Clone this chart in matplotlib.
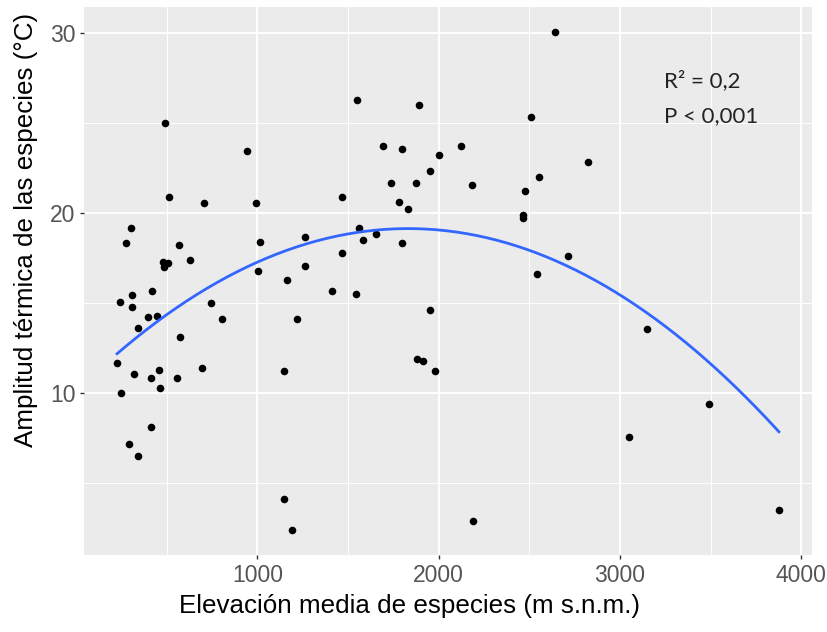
import numpy as np
import matplotlib
matplotlib.use("Agg")
import matplotlib.pyplot as plt
from matplotlib.ticker import MultipleLocator

# Mean elevation of each species (m a.s.l.) and its thermal amplitude (°C)
elevacion = [490, 943, 515, 704, 995, 1465, 301, 274, 566, 1013,
             1261, 1465, 479, 509, 483, 627, 1004, 1261, 1165, 1414,
             308, 241, 308, 419, 746, 395, 446, 344, 805, 1217,
             573, 226, 318, 456, 412, 557, 694, 1149, 250, 463,
             412, 292, 344, 1149, 1191, 2640, 1549, 1891, 2507, 1695,
             1797, 2123, 2004, 2825, 1950, 1737, 1875, 2183, 2553, 2476,
             1781, 1833, 2463, 2466, 1560, 1582, 1656, 1797, 2715, 2544,
             1542, 1952, 1882, 1912, 1978, 2191, 3151, 3493, 3048, 3877]
amplitud = [25.0, 23.45, 20.9, 20.57, 20.57, 20.9, 19.19, 18.33, 18.23, 18.42,
            18.67, 17.81, 17.32, 17.22, 16.99, 17.39, 16.8, 17.06, 16.29, 15.68,
            15.44, 15.09, 14.81, 15.68, 15.0, 14.23, 14.3, 13.64, 14.15, 14.15,
            13.13, 11.66, 11.07, 11.32, 10.83, 10.83, 11.42, 11.23, 10.04, 10.29,
            8.14, 7.21, 6.53, 4.14, 2.41, 30.05, 26.31, 26.03, 25.35, 23.73,
            23.55, 23.73, 23.22, 22.87, 22.35, 21.67, 21.67, 21.58, 22.0, 21.25,
            20.64, 20.22, 19.9, 19.76, 19.19, 18.53, 18.84, 18.33, 17.65, 16.63,
            15.52, 14.65, 11.93, 11.82, 11.23, 2.93, 13.55, 9.43, 7.56, 3.53]

x_ticks = [1000, 2000, 3000, 4000]
y_ticks = [10, 20, 30]
stats_lines = ["R² = 0,2", "P < 0,001"]
x_title = "Elevación media de especies (m s.n.m.)"
y_title = "Amplitud térmica de las especies (°C)"

x = np.array(elevacion, dtype=float)
y = np.array(amplitud, dtype=float)

# quadratic least-squares fit, drawn over the observed elevation range
coef = np.polyfit(x, y, 2)
xs = np.linspace(x.min(), x.max(), 200)
ys = np.polyval(coef, xs)

plt.rcParams["font.family"] = ["Liberation Sans", "DejaVu Sans"]

W, H = 828, 632
fig = plt.figure(figsize=(W / 100, H / 100), dpi=100)
ax = fig.add_axes([84 / W, 1 - 555 / H, (812 - 84) / W, (555 - 7.3) / H])
ax.set_facecolor("#EBEBEB")

ax.scatter(x, y, s=30, color="black", zorder=3, linewidths=0)
ax.plot(xs, ys, color="#3366FF", lw=2.0, zorder=4)

# ggplot-style 5% expansion of the data range
def expand(v):
    r = v.max() - v.min()
    return v.min() - 0.05 * r, v.max() + 0.05 * r

ax.set_xlim(*expand(x))
ax.set_ylim(*expand(y))

ax.set_xticks(x_ticks)
ax.set_yticks(y_ticks)
ax.xaxis.set_minor_locator(MultipleLocator(500))
ax.yaxis.set_minor_locator(MultipleLocator(5))
ax.grid(which="major", color="white", lw=1.3)
ax.grid(which="minor", color="white", lw=0.7)
ax.set_axisbelow(True)
for s in ax.spines.values():
    s.set_visible(False)

ax.tick_params(which="major", length=3, width=1, color="#333333",
               labelsize=16.5, labelcolor="#555555")
ax.tick_params(axis="x", which="major", pad=3.5)
ax.tick_params(axis="y", which="major", pad=3)
ax.tick_params(which="minor", length=0)

fig.text(410 / W, 1 - 613 / H, x_title, fontsize=18.7, color="black",
         ha="center", va="baseline")
fig.text(26 / W, 1 - 229.5 / H, y_title, fontsize=18.7, color="black",
         ha="center", va="center", rotation=90)

for i, line in enumerate(stats_lines):
    fig.text(664 / W, 1 - (87 + i * 35) / H, line, fontsize=16,
             family=["Lato", "DejaVu Sans"], color="#222222",
             ha="left", va="baseline")

fig.savefig("out.png", dpi=100, facecolor="white")
